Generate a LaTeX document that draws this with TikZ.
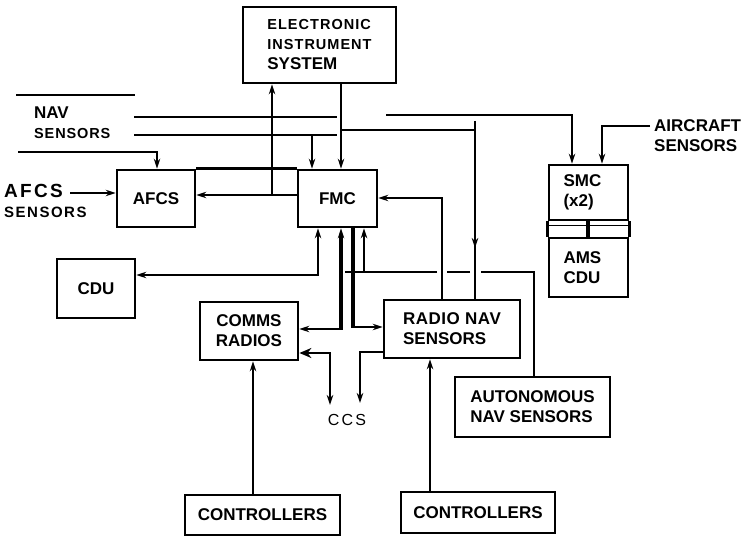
\documentclass[tikz,border=0pt]{standalone}
\usepackage{fontspec}
\setmainfont{Liberation Sans}
\usetikzlibrary{arrows.meta,calc}
\begin{document}
\begin{tikzpicture}[x=1pt,y=-1pt,
  box/.style 2 args={draw,line width=2.8pt,minimum width=#1,minimum height=#2,inner sep=0pt,font=\bfseries\fontsize{17}{20}\selectfont,align=center},
  lbl/.style={inner sep=0pt,font=\bfseries\fontsize{17}{20}\selectfont,align=left},
  ln/.style={line width=2.5pt},
  tk/.style={line width=4pt},
  arr/.style={-{Stealth[length=10pt,width=6.5pt]}},
  larr/.style={{Stealth[length=10pt,width=6.5pt]}-},
  barr/.style={{Stealth[length=10pt,width=6.5pt]}-{Stealth[length=10pt,width=6.5pt]}},
  bigarr/.style={-{Stealth[length=12pt,width=10pt]}},
]
\useasboundingbox (0,0) rectangle (747,537);
\fill[white] (0,0) rectangle (747,537);

% boxes
\node[box={153pt}{76pt},align=left] (eis) at (319.5,45)
  {\fontsize{14.5}{20}\selectfont\addfontfeature{LetterSpace=7}ELECTRONIC\\
   \fontsize{14.5}{20}\selectfont\addfontfeature{LetterSpace=7}INSTRUMENT\\
   \fontsize{17}{25}\selectfont SYSTEM};
\node[box={78pt}{57pt}] (afcs) at (156,198.5) {AFCS};
\node[box={79pt}{57pt}] (fmc) at (337.5,198.5) {FMC};
\node[box={78pt}{59pt}] (cdu) at (96,288.5) {CDU};
\node[box={98pt}{58pt}] (comms) at (249,331) {COMMS\\RADIOS};
\node[box={136pt}{58pt},align=left] (rns) at (452,329) {\addfontfeature{LetterSpace=3}RADIO NAV\\SENSORS};
\node[box={155pt}{60pt},align=left] (ans) at (532.5,407) {AUTONOMOUS\\NAV SENSORS};
\node[box={155pt}{40pt}] (ctl1) at (262.5,515) {CONTROLLERS};
\node[box={154pt}{41pt}] (ctl2) at (478,512.5) {CONTROLLERS};
\node[box={79pt}{55pt},align=left,text width=50pt] (smc) at (588.5,192.5) {SMC\\(x2)};
\node[box={79pt}{59pt},align=left,text width=50pt] (ams) at (588.5,267.5) {AMS\\CDU};

% labels
\node[lbl,anchor=west] (navl) at (34,123)
  {NAV\\\fontsize{14.5}{20}\selectfont\addfontfeature{LetterSpace=6}SENSORS};
\node[lbl,anchor=west] (afcsl) at (4,201)
  {\fontsize{19}{18}\selectfont\addfontfeature{LetterSpace=12}AFCS\\
   \fontsize{15}{18}\selectfont\addfontfeature{LetterSpace=10}SENSORS};
\node[lbl,anchor=west] (acl) at (654,136) {AIRCRAFT\\SENSORS};
\node[lbl,font=\fontsize{16}{18}\selectfont] (ccs) at (347,420) {\addfontfeature{LetterSpace=14}CCS};

% NAV sensors bus
\coordinate (n1a) at (16,95);  \coordinate (n1b) at (135,95);
\coordinate (n2a) at (134,117); \coordinate (n2b) at (337,117);
\coordinate (n3a) at (134,135); \coordinate (n3b) at (337,135);
\coordinate (n4a) at (18,152);
\draw[ln] (n1a) -- (n1b);
\draw[ln] (n2a) -- (n2b);
\draw[ln] (n3a) -- (n3b);
\draw[ln,arr] (312,135) -- (fmc.north -| 312,0);
\draw[ln,arr] (n4a) -- (157,152) -- (afcs.north -| 157,0);

% AFCS sensors
\coordinate (as) at (70,193);
\draw[ln,arr] (as) -- (afcs.west |- 0,193);

% FMC -> AFCS and EIS
\draw[ln,arr] (fmc.west |- 0,195) -- (afcs.east |- 0,195);
\draw[ln,arr] (272,195) -- (eis.south -| 272,0);
\draw[ln] (afcs.north east) -- (fmc.north west);

% EIS -> FMC, branch to radio nav
\draw[ln,arr] (eis.south -| 341,0) -- (fmc.north -| 341,0);
\draw[ln] (341,130) -- (475,130);
\draw[ln,arr] (475,121) -- (475,248);
\draw[ln] (475,244) -- (rns.north -| 475,0);

% bus to SMC
\coordinate (sb) at (386,115);
\draw[ln,arr] (sb) -- (572,115) -- (smc.north -| 572,0);
% aircraft sensors
\coordinate (acs) at (650,126);
\draw[ln,arr] (acs) -- (602,126) -- (smc.north -| 602,0);

% FMC right -> radio nav
\draw[ln,arr] (rns.north -| 442,0) -- (442,198) -- (fmc.east |- 0,198);

% FMC bottom
\draw[ln,barr] (fmc.south -| 318,0) -- (318,275) -- (cdu.east |- 0,275);
\draw[tk,larr] (fmc.south -| 341,0) -- (341,330);
\draw[ln,arr] (341,329) -- (comms.east |- 0,329);
\draw[tk] (fmc.south -| 353,0) -- (353,328);
\draw[ln,arr] (353,327) -- (rns.west |- 0,327);

% autonomous nav sensors
\draw[ln] (ans.north -| 534,0) -- (534,272) -- (481,272);
\draw[ln] (470,272) -- (447,272);
\draw[ln] (437,272) -- (345,272);
\draw[ln,larr] (fmc.south -| 364,0) -- (364,272);

% CCS
\draw[ln,bigarr] (331,353) -- (comms.east |- 0,353);
\draw[ln,arr] (330,352) -- (330,405);
\draw[ln,arr] (rns.west |- 0,352) -- (360,352) -- (360,403);

% controllers
\draw[ln,larr] (comms.south -| 253,0) -- (ctl1.north -| 253,0);
\draw[ln,larr] (rns.south -| 430,0) -- (ctl2.north -| 430,0);

% SMC - AMS
\draw[line width=3.5pt] (smc.south -| 588,0) -- (ams.north -| 588,0);
\draw[ln] (smc.south west) -- (smc.south west |- ams.north);
\draw[ln] (smc.south east) -- (smc.south east |- ams.north);
\draw[line width=1.4pt] ($(smc.south west)+(0,4)$) -- ($(smc.south east)+(0,4)$);
\end{tikzpicture}
\end{document}
